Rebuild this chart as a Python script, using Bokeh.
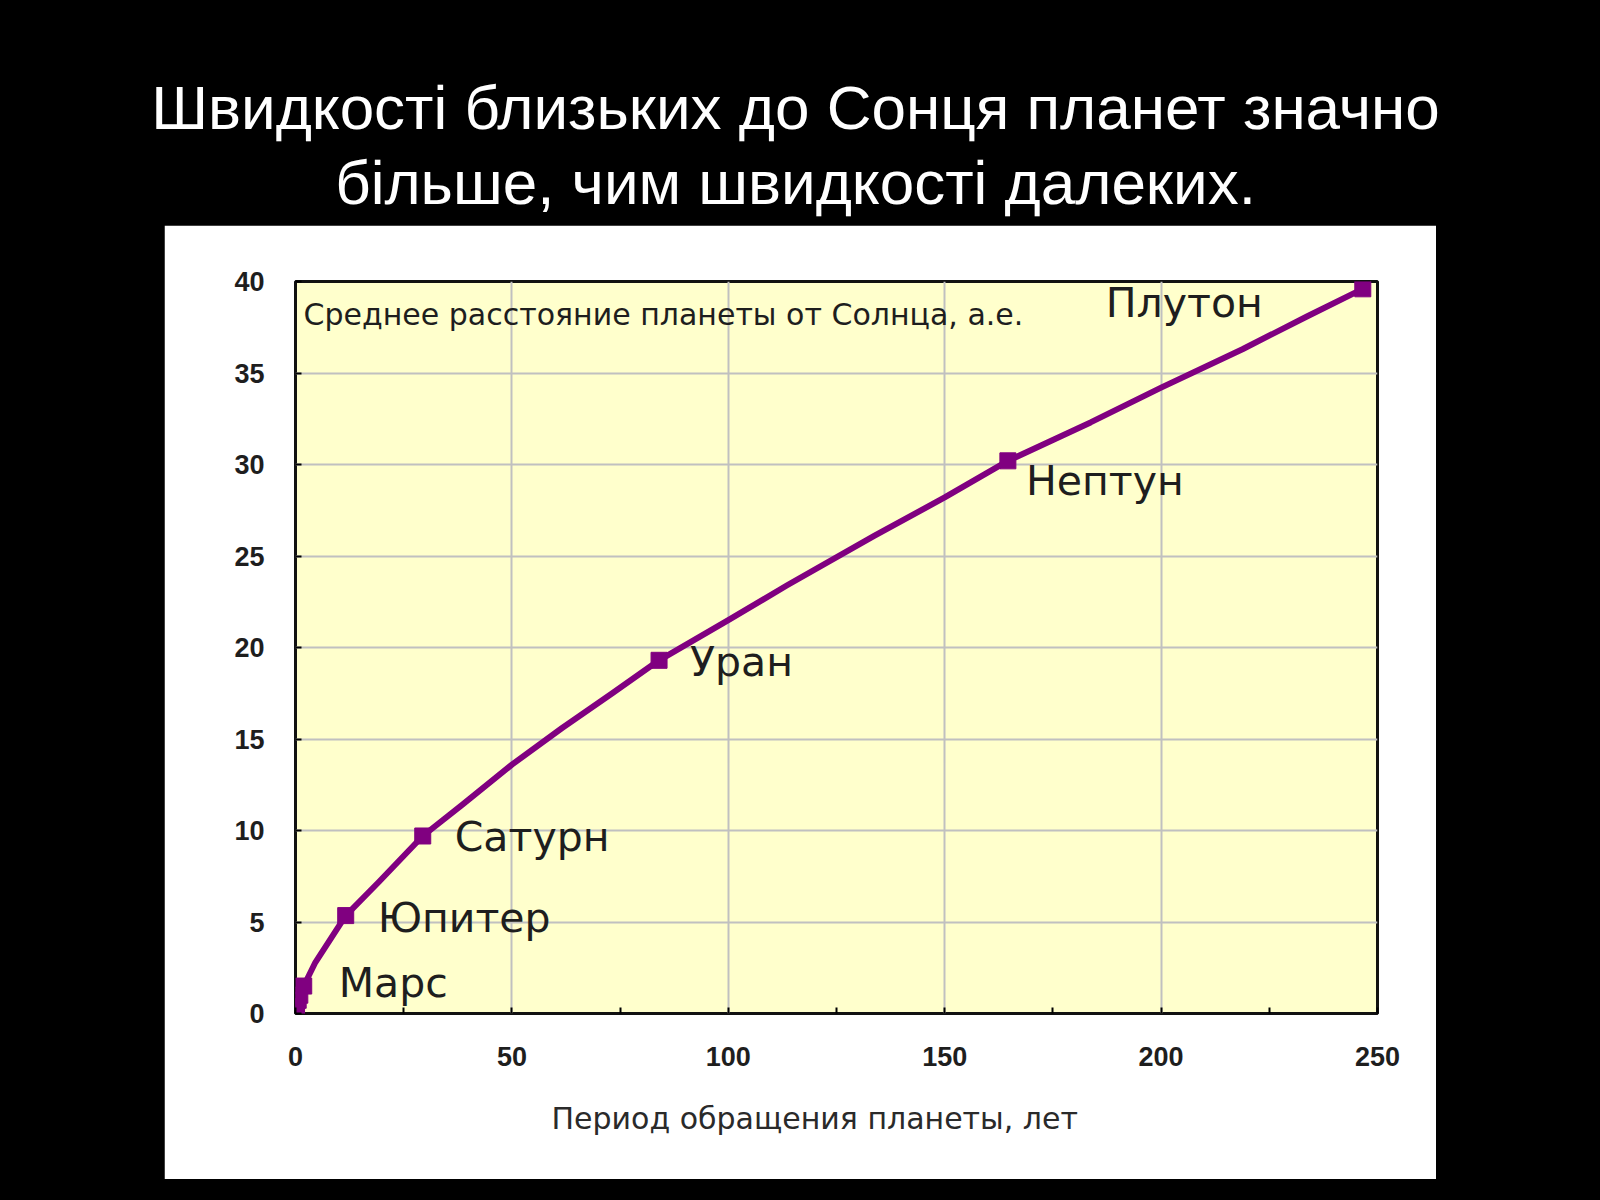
from bokeh.plotting import figure
from bokeh.models import ColumnDataSource, Range1d, FixedTicker, Spacer, Title
from bokeh.layouts import column, row
from bokeh.embed import file_html
from bokeh.resources import INLINE
from bokeh.core.properties import value

# ---- texts ----
title_lines = ["Швидкості близьких до Сонця планет значно",
               "більше, чим швидкості далеких."]
inner_title = "Среднее расстояние планеты от Солнца, а.е."
x_label = "Период обращения планеты, лет"

# ---- data ----
planets = ["Меркурий", "Венера", "Земля", "Марс", "Юпитер", "Сатурн", "Уран", "Нептун", "Плутон"]
labels = ["", "", "", "Марс", "Юпитер", "Сатурн", "Уран", "Нептун", "Плутон"]
period = [0.24, 0.62, 1.0, 1.9, 11.6, 29.4, 84.0, 164.6, 246.6]      # years
dist = [0.39, 0.72, 1.0, 1.5, 5.35, 9.7, 19.3, 30.2, 39.6]           # AU

curve_period = [0.24, 0.62, 1.0, 1.9, 4.6, 11.6, 19.3, 29.4, 38.5, 50.0, 61.6, 73.2,
                84.0, 100.0, 113.6, 133.7, 150.0, 164.6, 183.7, 200.0, 218.8, 233.8, 246.6]
curve_dist = [0.39, 0.72, 1.0, 1.5, 2.8, 5.35, 7.2, 9.7, 11.4, 13.6, 15.6, 17.5,
              19.3, 21.5, 23.4, 26.1, 28.2, 30.2, 32.3, 34.2, 36.3, 38.1, 39.6]

x_ticks = [0, 25, 50, 75, 100, 125, 150, 175, 200, 225, 250]
x_tick_labels = ["0", "", "50", "", "100", "", "150", "", "200", "", "250"]
y_ticks = [0, 5, 10, 15, 20, 25, 30, 35, 40]

# ---- layout-only values ----
label_dx = [0, 0, 0, 35, 32, 32, 31, 18, -257]
label_dy = [0, 0, 0, -3, 2, 1, 2, 20, 14]

PURPLE = "#800080"
INK = "#1e1e1e"

# ---- title figure ----
tf = figure(width=1600, height=225, x_range=Range1d(0, 1600), y_range=Range1d(225, 0),
            title=None, output_backend="svg", toolbar_location=None, min_border=0,
            x_axis_type=None, y_axis_type=None,
            border_fill_color="black", background_fill_color="black",
            outline_line_color=None)
tf.grid.visible = False
tf.text(x=[795, 795], y=[107, 182], text=title_lines, text_color="white",
        text_font=value("Liberation Sans"), text_font_size="62px",
        text_align="center", text_baseline="alphabetic")

# ---- chart figure ----
p = figure(width=1272, height=954, x_range=Range1d(0, 250), y_range=Range1d(0, 40),
           output_backend="svg", toolbar_location=None,
           min_border_left=131, min_border_right=59, min_border_top=56, min_border_bottom=166,
           background_fill_color="#FFFFCC", border_fill_color="white",
           outline_line_color="#111111", outline_line_width=3)

p.xaxis.ticker = FixedTicker(ticks=x_ticks)
p.xaxis.major_label_overrides = {float(t): s for t, s in zip(x_ticks, x_tick_labels)}
p.yaxis.ticker = FixedTicker(ticks=y_ticks)

for ax in (p.xaxis[0], p.yaxis[0]):
    ax.axis_line_color = None
    ax.major_tick_in = 6
    ax.major_tick_out = 0
    ax.major_tick_line_color = "black"
    ax.major_tick_line_width = 2
    ax.minor_tick_line_color = None
    ax.major_label_text_font = "Liberation Sans"
    ax.major_label_text_font_style = "bold"
    ax.major_label_text_font_size = "27px"
    ax.major_label_text_color = INK

p.xaxis.major_label_standoff = 33
p.yaxis.major_label_standoff = 31

p.xgrid.ticker = FixedTicker(ticks=[t for t in x_ticks if t % 50 == 0 and 0 < t < 250])
p.ygrid.ticker = FixedTicker(ticks=[t for t in y_ticks if 0 < t < 40])
p.grid.grid_line_color = "#C0C0C0"
p.grid.grid_line_width = 2

# x-axis caption, slightly left of the frame centre as in the original
p.add_layout(Title(text=x_label, align="left", offset=256, standoff=60,
                   text_font="DejaVu Sans", text_font_size="30px",
                   text_font_style="normal", text_color="#2a2a2a"), "below")

curve = ColumnDataSource(dict(t=curve_period, a=curve_dist))
pts = ColumnDataSource(dict(t=period, a=dist, name=planets, label=labels,
                            dx=label_dx, dy=label_dy))

p.line("t", "a", source=curve, line_color=PURPLE, line_width=6, line_join="round")
p.scatter("t", "a", source=pts, marker="square", size=16, fill_color=PURPLE,
          line_color=PURPLE)
p.text("t", "a", text="label", source=pts, x_offset="dx", y_offset="dy",
       text_font=value("DejaVu Sans"), text_font_size="41px", text_color=INK,
       text_align="left", text_baseline="alphabetic")

p.text(x=[0], y=[40], text=[inner_title], x_offset=8, y_offset=33,
       text_font=value("DejaVu Sans"), text_font_size="30px", text_color=INK,
       text_align="left", text_baseline="alphabetic")

layout = column(tf, row(Spacer(width=164, height=954), p), spacing=0)

html = file_html(layout, INLINE, title="chart")
html = html.replace("</head>", "<style>html,body{background:#000;}</style></head>", 1)
open("out.html", "w").write(html)
